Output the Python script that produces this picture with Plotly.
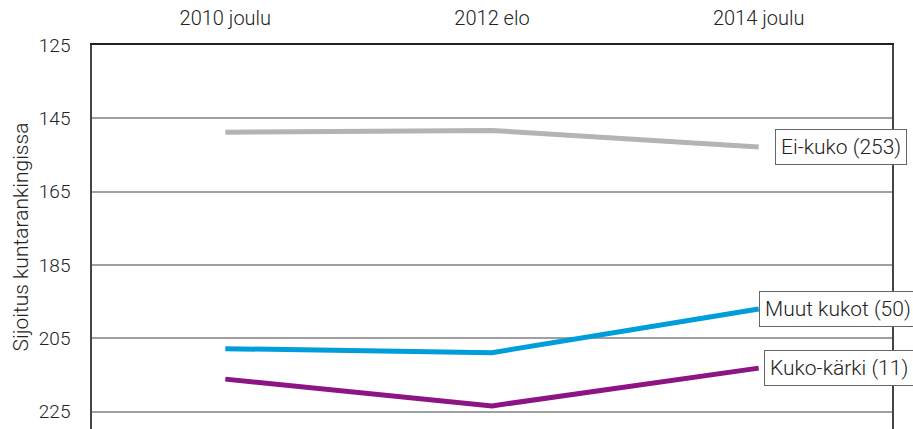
import plotly.graph_objects as go

categories = ["2010 joulu", "2012 elo", "2014 joulu"]
ei_kuko = [148.8, 148.3, 152.8]
muut_kukot = [207.8, 208.9, 197.0]
kuko_karki = [216.1, 223.4, 213.1]
series_names = ["Ei-kuko (253)", "Muut kukot (50)", "Kuko-kärki (11)"]
tick_vals = [125, 145, 165, 185, 205, 225]

colors = ["#b3b4b6", "#009ddb", "#8c1484"]
shifts = [16, 0, 5]
FONT = "Roboto"

fig = go.Figure()
for name, vals, col, sh in zip(series_names, [ei_kuko, muut_kukot, kuko_karki], colors, shifts):
    fig.add_trace(go.Scatter(x=categories, y=vals, mode="lines", name=name,
                             line=dict(color=col, width=5), showlegend=False))
    fig.add_annotation(x=categories[-1], y=vals[-1], xref="x", yref="y",
                       text=name, showarrow=False, xanchor="left", yanchor="middle",
                       xshift=sh, bgcolor="white", bordercolor="#666", borderwidth=1,
                       borderpad=5, font=dict(family=FONT, size=21, color="#222", weight=300))

fig.update_layout(
    width=913, height=429,
    margin=dict(l=92, r=21, t=45, b=0, autoexpand=False),
    plot_bgcolor="white", paper_bgcolor="white",
    font=dict(family=FONT, size=19, color="#222", weight=300),
)
fig.update_xaxes(type="category", side="top", range=[-0.5, 2.5], showgrid=False,
                 showline=True, linecolor="#222", linewidth=1.5, ticks="", automargin=False,
                 ticklabelstandoff=10,
                 tickfont=dict(family=FONT, size=20, color="#222", weight=300))
fig.update_yaxes(autorange=False, range=[229.7, 125], tickvals=tick_vals,
                 showgrid=True, gridcolor="#a0a0a0", gridwidth=1.5, automargin=False,
                 showline=True, mirror=True, linecolor="#444", linewidth=1.5,
                 zeroline=False, ticks="", ticklabelstandoff=16,
                 title=dict(text="Sijoitus kuntarankingissa", standoff=4,
                            font=dict(family=FONT, size=21, color="#222", weight=300)),
                 tickfont=dict(family=FONT, size=19, color="#222", weight=300))

fig.write_html("out.html", config={"displayModeBar": False},
               post_script="document.body.style.margin='0';document.body.style.overflow='hidden';")
